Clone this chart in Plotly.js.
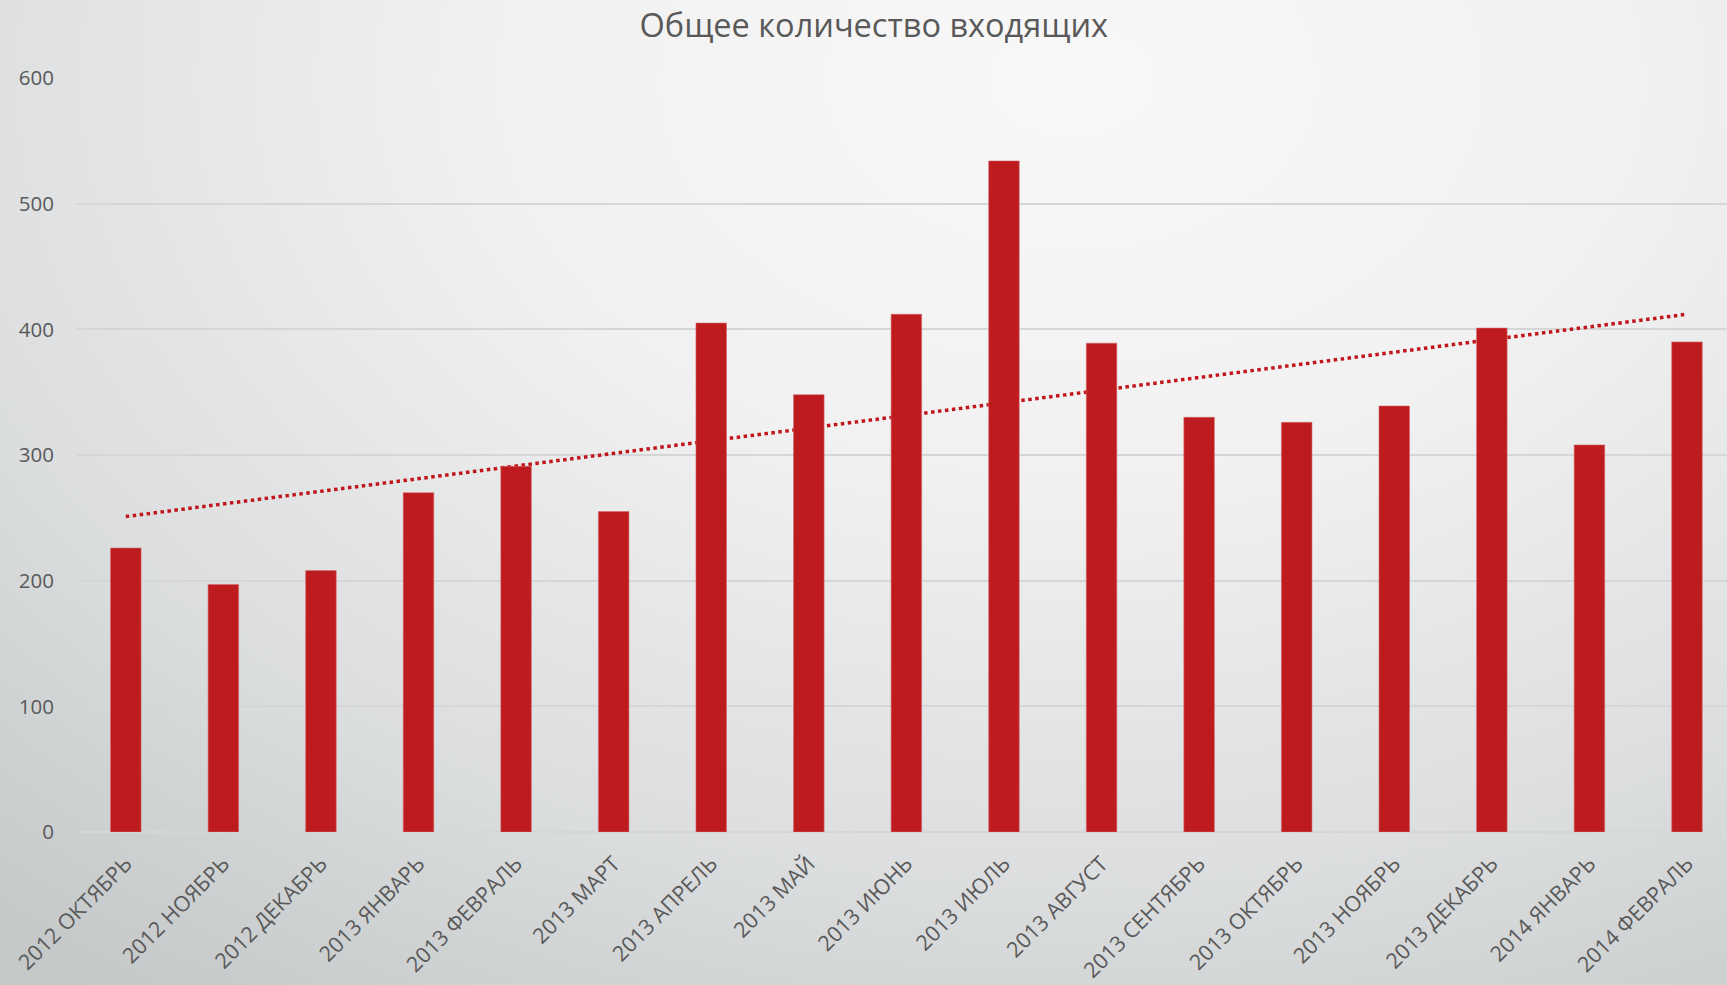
<!DOCTYPE html>
<html>
<head>
<meta charset="utf-8">
<script src="https://cdn.plot.ly/plotly-3.0.1.min.js"></script>
<style>
  html, body { margin: 0; padding: 0; }
  body {
    width: 1727px; height: 985px; overflow: hidden;
    background: radial-gradient(ellipse 95% 115% at 62% 8%, #f8f8f8 0%, #f1f1f1 35%, #dcdedf 70%, #c4c8c9 100%);
  }
  #chart { width: 1727px; height: 985px; }
</style>
</head>
<body>
<div id="chart"></div>
<script>
const categories = [
  "2012 ОКТЯБРЬ", "2012 НОЯБРЬ", "2012 ДЕКАБРЬ", "2013 ЯНВАРЬ", "2013 ФЕВРАЛЬ",
  "2013 МАРТ", "2013 АПРЕЛЬ", "2013 МАЙ", "2013 ИЮНЬ", "2013 ИЮЛЬ",
  "2013 АВГУСТ", "2013 СЕНТЯБРЬ", "2013 ОКТЯБРЬ", "2013 НОЯБРЬ", "2013 ДЕКАБРЬ",
  "2014 ЯНВАРЬ", "2014 ФЕВРАЛЬ"
];
const incoming = [226, 197, 208, 270, 291, 255, 405, 348, 412, 534, 389, 330, 326, 339, 401, 308, 390];
const trendX = ["2012 ОКТЯБРЬ", "2014 ФЕВРАЛЬ"];
const trendY = [251, 412];
const yTicks = [0, 100, 200, 300, 400, 500, 600];
const titleText = "Общее количество входящих";

const textColor = "#595959";
const barColor = "#bd1b1e";
const fontFam = "'Open Sans', 'Noto Sans', sans-serif";

const data = [
  {
    type: "scatter", mode: "lines",
    x: trendX, y: trendY,
    xaxis: "x", yaxis: "y",
    line: { color: "#c0161b", width: 3.5, dash: "3.5px,3.5px" },
    hoverinfo: "skip", showlegend: false
  },
  {
    type: "bar",
    x: categories, y: incoming,
    xaxis: "x2", yaxis: "y2",
    width: 0.313,
    marker: { color: barColor, line: { color: "#d86a6a", width: 0.6 } },
    showlegend: false
  }
];

const layout = {
  width: 1727, height: 985,
  paper_bgcolor: "rgba(0,0,0,0)",
  plot_bgcolor: "rgba(0,0,0,0)",
  margin: { l: 77, r: 0, t: 78, b: 153 },
  title: {
    text: titleText,
    font: { family: fontFam, size: 32.5, color: textColor },
    x: 0.506, xanchor: "center", y: 0.974, yanchor: "middle"
  },
  xaxis: {
    type: "category",
    categoryorder: "array", categoryarray: categories,
    range: [-0.5, 16.41],
    tickangle: -45,
    tickfont: { family: fontFam, size: 21.5, color: textColor },
    showgrid: false, zeroline: false, showline: false,
    ticks: "", ticklabelstandoff: 14
  },
  yaxis: {
    range: [0, 600],
    tickvals: yTicks,
    tickfont: { family: fontFam, size: 20.5, color: textColor },
    showgrid: true, gridcolor: "#d5d6d7", gridwidth: 1.8,
    zeroline: true, zerolinecolor: "#d5d6d7", zerolinewidth: 1.8,
    showline: false, ticks: "", ticklabelstandoff: 22
  },
  xaxis2: {
    type: "category", overlaying: "x", matches: "x",
    categoryorder: "array", categoryarray: categories,
    visible: false
  },
  yaxis2: {
    overlaying: "y", matches: "y", visible: false
  }
};

Plotly.newPlot("chart", data, layout, { displayModeBar: false, staticPlot: true });
</script>
</body>
</html>
